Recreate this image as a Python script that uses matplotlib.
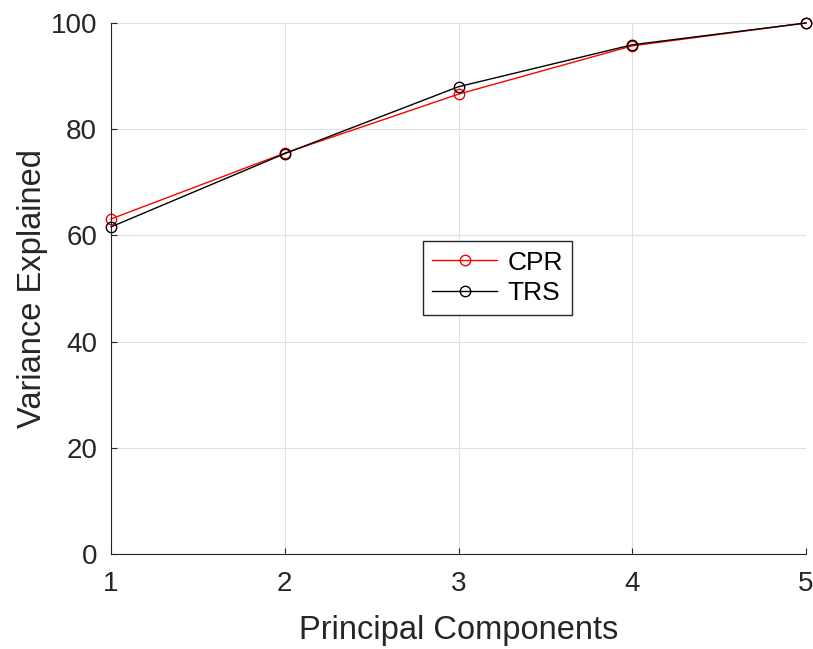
import matplotlib.pyplot as plt

plt.rcParams['font.family'] = ['Liberation Sans', 'DejaVu Sans']

# Data
components = [1, 2, 3, 4, 5]
cpr = [63.1, 75.5, 86.6, 95.7, 100.0]
trs = [61.6, 75.4, 88.0, 95.9, 100.0]

fig = plt.figure(figsize=(8.13, 6.49), dpi=100)
ax = fig.add_axes([111 / 813, 1 - 554 / 649, 695 / 813, 531 / 649])

ax.plot(components, cpr, color='red', lw=1, marker='o', ms=7.5,
        mfc='none', mec='red', label='CPR', clip_on=False)
ax.plot(components, trs, color='black', lw=1, marker='o', ms=7.5,
        mfc='none', mec='black', label='TRS', clip_on=False)

ax.set_xlim(1, 5)
ax.set_ylim(0, 100)
ax.set_xticks(components)
ax.set_yticks([0, 20, 40, 60, 80, 100])
ax.grid(True, color='#e0e0e0', lw=0.8)
ax.set_axisbelow(True)

for s in ['top', 'right']:
    ax.spines[s].set_visible(False)
for s in ['left', 'bottom']:
    ax.spines[s].set_color('#262626')
ax.tick_params(labelsize=20, colors='#262626', direction='in', length=4, width=0.8)
ax.tick_params(axis='x', pad=12)
ax.tick_params(axis='y', pad=10)

ax.set_xlabel('Principal Components', fontsize=23.5, color='#262626', labelpad=13)
ax.set_ylabel('Variance Explained', fontsize=23.5, color='#262626', labelpad=2)

leg = ax.legend(loc='lower left', bbox_to_anchor=(0.449, 0.451),
                fontsize=19, fancybox=False, framealpha=1,
                edgecolor='#262626', handlelength=2.45, handletextpad=0.4,
                borderpad=0.35, labelspacing=0.25, borderaxespad=0)
leg.get_frame().set_linewidth(1)

fig.savefig('out.png', dpi=100)
